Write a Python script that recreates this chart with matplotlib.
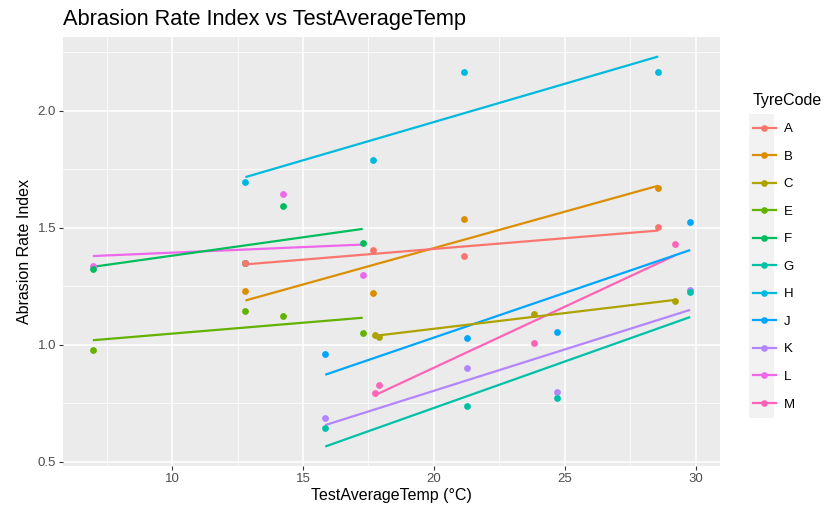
import numpy as np
import matplotlib
matplotlib.use("Agg")
import matplotlib.pyplot as plt
from matplotlib.lines import Line2D
from matplotlib.patches import Rectangle
from matplotlib.ticker import MultipleLocator

# tyre codes and ggplot hue colours
codes = ['A', 'B', 'C', 'E', 'F', 'G', 'H', 'J', 'K', 'L', 'M']
colors = ['#F8766D', '#DB8E00', '#AEA200', '#64B200', '#00BD5C', '#00C1A7',
          '#00BADE', '#00A6FF', '#B385FF', '#EF67EB', '#FF63B6']

# test average temperatures (°C) of the four test sessions
temp_s1 = [6.97, 12.8, 14.22, 17.28]
temp_s2 = [12.8, 17.68, 21.16, 28.57]
temp_s3 = [17.75, 17.9, 23.82, 29.2]
temp_s4 = [15.85, 21.26, 24.7, 29.79]

# abrasion rate index per tyre
abr_A = [1.351, 1.404, 1.379, 1.504]
abr_B = [1.230, 1.220, 1.538, 1.669]
abr_C = [1.040, 1.032, 1.131, 1.185]
abr_E = [0.978, 1.143, 1.123, 1.050]
abr_F = [1.322, 1.350, 1.591, 1.435]
abr_G = [0.642, 0.740, 0.772, 1.225]
abr_H = [1.694, 1.787, 2.165, 2.165]
abr_J = [0.960, 1.027, 1.054, 1.523]
abr_K = [0.685, 0.902, 0.800, 1.235]
abr_L = [1.335, 1.350, 1.643, 1.298]
abr_M = [0.792, 0.829, 1.007, 1.430]

series = {
    'A': (temp_s2, abr_A), 'B': (temp_s2, abr_B), 'C': (temp_s3, abr_C),
    'E': (temp_s1, abr_E), 'F': (temp_s1, abr_F), 'G': (temp_s4, abr_G),
    'H': (temp_s2, abr_H), 'J': (temp_s4, abr_J), 'K': (temp_s4, abr_K),
    'L': (temp_s1, abr_L), 'M': (temp_s3, abr_M),
}

W, H = 824, 509
plt.rcParams['font.family'] = ['Liberation Sans', 'DejaVu Sans']

fig = plt.figure(figsize=(W / 100, H / 100), dpi=100)
fig.patch.set_facecolor('white')
ax = fig.add_axes([63 / W, 1 - 466 / H, (720 - 63) / W, (466 - 37) / H])
ax.set_facecolor('#EBEBEB')

ys_all, xs_all = [], []
for code, col in reversed(list(zip(codes, colors))):
    x, y = series[code]
    x = np.array(x)
    y = np.array(y)
    # linear fit per tyre, like geom_smooth(method = "lm", se = FALSE)
    k, b = np.polyfit(x, y, 1)
    xl = np.array([x.min(), x.max()])
    yl = k * xl + b
    ax.plot(xl, yl, color=col, lw=1.6, zorder=2, solid_capstyle='butt')
    ax.scatter(x, y, s=24, color=col, linewidths=0, zorder=3)
    xs_all += list(x)
    ys_all += list(y) + list(yl)

# ggplot style 5% expansion
x0, x1 = min(xs_all), max(xs_all)
y0, y1 = min(ys_all), max(ys_all)
ax.set_xlim(x0 - 0.05 * (x1 - x0), x1 + 0.05 * (x1 - x0))
ax.set_ylim(y0 - 0.05 * (y1 - y0), y1 + 0.05 * (y1 - y0))

ax.xaxis.set_major_locator(MultipleLocator(5))
ax.xaxis.set_minor_locator(MultipleLocator(2.5))
ax.yaxis.set_major_locator(MultipleLocator(0.5))
ax.yaxis.set_minor_locator(MultipleLocator(0.25))
ax.yaxis.set_major_formatter(lambda v, p: f"{v:.1f}")
ax.grid(which='major', color='white', lw=1.1)
ax.grid(which='minor', color='white', lw=0.55)
ax.set_axisbelow(True)
for s in ax.spines.values():
    s.set_visible(False)
ax.tick_params(which='major', length=3, width=0.8, color='#333333',
               labelcolor='#4D4D4D', labelsize=9.5, pad=2)
ax.tick_params(which='minor', length=0)

ax.set_xlabel('TestAverageTemp (°C)', fontsize=11.5, labelpad=2)
ax.set_ylabel('Abrasion Rate Index', fontsize=11.5, labelpad=4)
fig.text(63 / W, 1 - 20 / H, 'Abrasion Rate Index vs TestAverageTemp',
         fontsize=15.7, ha='left', va='center')

# legend
fig.patches.append(Rectangle((749 / W, 1 - 418 / H), 25 / W, (418 - 114) / H,
                             transform=fig.transFigure, facecolor='#F2F2F2',
                             edgecolor='none', zorder=0))
handles = [Line2D([], [], color=c, lw=1.6, marker='o', markersize=4.8,
                  markeredgewidth=0) for c in colors]
leg = fig.legend(handles, codes, loc='upper left',
                 bbox_to_anchor=(746 / W, 1 - 86 / H), frameon=False,
                 title='TyreCode', title_fontsize=11.5, fontsize=9.5,
                 handlelength=1.75, handletextpad=0.6, labelspacing=1.16,
                 borderpad=0, alignment='left')

fig.savefig('out.png', dpi=100)
